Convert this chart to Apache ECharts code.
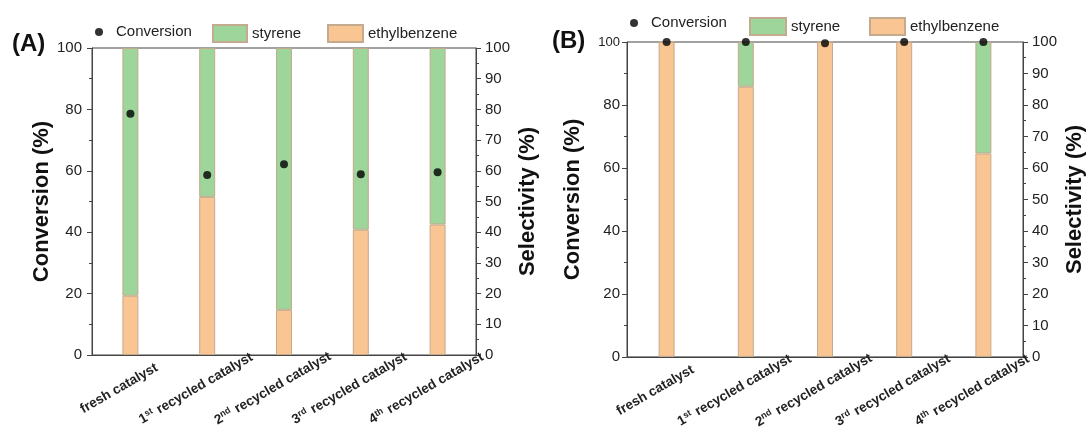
<!DOCTYPE html>
<html>
<head>
<meta charset="utf-8">
<title>Catalyst recycling: conversion and selectivity</title>
<script src="https://cdn.jsdelivr.net/npm/echarts@6/dist/echarts.min.js"></script>
<style>
  html, body { margin: 0; padding: 0; background: #ffffff; }
  #chart { width: 1091px; height: 431px; }
</style>
</head>
<body>
<div id="chart"></div>
<script>
// Catalyst runs on the category axis
const categories = ['fresh catalyst', '1st recycled catalyst', '2nd recycled catalyst', '3rd recycled catalyst', '4th recycled catalyst'];

// Panel (A)
const conversionA   = [78.6, 58.6, 62.1, 58.9, 59.5];
const ethylbenzeneA = [19.3, 51.5, 14.7, 40.8, 42.5];
const styreneA      = [80.7, 48.5, 85.3, 59.2, 57.5];

// Panel (B)
const conversionB   = [100, 100, 99.6, 100, 100];
const ethylbenzeneB = [100, 85.8, 100, 100, 64.6];
const styreneB      = [0, 14.2, 0, 0, 35.4];

// Axis ranges
const conversionRange  = { min: 0, max: 100, interval: 20 };
const selectivityRange = { min: 0, max: 100, interval: 10 };

const FONT = 'Liberation Sans, Arial, Helvetica, sans-serif';
const GREEN = '#9dd59a';
const ORANGE = '#f9c593';
const EDGE = '#c4aa8e';
const AXIS = '#444';
const TEXT = '#222';

const chart = echarts.init(document.getElementById('chart'), null, { renderer: 'canvas' });

// "1st recycled catalyst" -> ordinal with superscript suffix
function categoryLabel(v) {
  const m = v.match(/^(\d)(st|nd|rd|th) (.*)$/);
  if (!m) return '{b|' + v + '}';
  return '{b|' + m[1] + '}{s|' + m[2] + '}{b| ' + m[3] + '}';
}

const grids = [
  { left: 92, top: 48, width: 384, height: 307 },
  { left: 627, top: 42, width: 396, height: 318 }
];

function xAxisFor(i) {
  return {
    type: 'category',
    gridIndex: i,
    data: categories,
    boundaryGap: true,
    axisLine: { lineStyle: { color: AXIS, width: 1 } },
    axisTick: { show: false },
    axisLabel: {
      interval: 0,
      rotate: 30,
      align: 'center',
      verticalAlign: 'middle',
      margin: 27,
      padding: [0, 26, 0, 0],
      formatter: categoryLabel,
      rich: {
        b: { fontSize: 13.5, fontWeight: 'bold', fontFamily: FONT, color: TEXT },
        s: { fontSize: 9, fontWeight: 'bold', fontFamily: FONT, color: TEXT, verticalAlign: 'top', padding: [0, 1, 6, 0] }
      }
    }
  };
}

function conversionAxis(i, gap, margin, topSize) {
  return {
    type: 'value',
    gridIndex: i,
    position: 'left',
    min: conversionRange.min,
    max: conversionRange.max,
    interval: conversionRange.interval,
    name: 'Conversion (%)',
    nameLocation: 'middle',
    nameGap: gap,
    nameTextStyle: { fontSize: 22, fontWeight: 'bold', fontFamily: FONT, color: '#111' },
    axisLine: { show: true, lineStyle: { color: AXIS, width: 1 } },
    axisTick: { show: true, inside: false, length: 5, lineStyle: { color: AXIS } },
    minorTick: { show: true, splitNumber: 2, length: 3, lineStyle: { color: AXIS } },
    splitLine: { show: false },
    axisLabel: {
      margin: margin,
      fontSize: 15,
      fontFamily: FONT,
      color: TEXT,
      formatter: function (v) { return v === 100 ? '{t|' + v + '}' : '{n|' + v + '}'; },
      rich: {
        n: { fontSize: 15, fontFamily: FONT, color: TEXT },
        t: { fontSize: topSize, fontFamily: FONT, color: TEXT }
      }
    }
  };
}

function selectivityAxis(i) {
  return {
    type: 'value',
    gridIndex: i,
    position: 'right',
    min: selectivityRange.min,
    max: selectivityRange.max,
    interval: selectivityRange.interval,
    name: 'Selectivity (%)',
    nameLocation: 'middle',
    nameGap: 41,
    nameTextStyle: { fontSize: 22, fontWeight: 'bold', fontFamily: FONT, color: '#111' },
    axisLine: { show: true, lineStyle: { color: AXIS, width: 1 } },
    axisTick: { show: true, inside: false, length: 5, lineStyle: { color: AXIS } },
    minorTick: { show: true, splitNumber: 2, length: 3, lineStyle: { color: AXIS } },
    splitLine: { show: false },
    axisLabel: { margin: 9, fontSize: 15, fontFamily: FONT, color: TEXT }
  };
}

function panelSeries(i, conv, eb, st) {
  return [
    {
      name: 'ethylbenzene', type: 'bar', xAxisIndex: i, yAxisIndex: 2 * i + 1,
      stack: 'sel' + i, barWidth: 16, data: eb,
      itemStyle: { color: ORANGE, borderColor: EDGE, borderWidth: 1 }
    },
    {
      name: 'styrene', type: 'bar', xAxisIndex: i, yAxisIndex: 2 * i + 1,
      stack: 'sel' + i, barWidth: 16, data: st,
      itemStyle: { color: GREEN, borderColor: EDGE, borderWidth: 1 }
    },
    {
      name: 'Conversion', type: 'scatter', xAxisIndex: i, yAxisIndex: 2 * i,
      symbol: 'circle', symbolSize: 8, clip: false, z: 5, data: conv,
      itemStyle: { color: '#000' }
    }
  ];
}

function legendItem(name, left, top, w, h, icon) {
  return {
    data: [name], left: left, top: top, padding: 0, itemGap: 0,
    itemWidth: w, itemHeight: h, icon: icon, selectedMode: false,
    textStyle: { fontSize: 15, fontFamily: FONT, color: TEXT }
  };
}

const option = {
  backgroundColor: '#ffffff',
  animation: false,
  title: [
    { text: '(A)', left: 12, top: 32, padding: 0, textStyle: { fontSize: 24, fontWeight: 'bold', fontFamily: FONT, color: '#111' } },
    { text: '(B)', left: 552, top: 29, padding: 0, textStyle: { fontSize: 24, fontWeight: 'bold', fontFamily: FONT, color: '#111' } }
  ],
  legend: [
    legendItem('Conversion', 95, 24.5, 24, 8, 'circle'),
    legendItem('styrene', 212, 24, 34, 17, 'rect'),
    legendItem('ethylbenzene', 327, 24, 35, 17, 'rect'),
    legendItem('Conversion', 630, 15.5, 24, 8, 'circle'),
    legendItem('styrene', 749, 17, 36, 17, 'rect'),
    legendItem('ethylbenzene', 869, 17, 35, 17, 'rect')
  ],
  grid: grids.map(g => Object.assign({ show: true, borderColor: AXIS, borderWidth: 1, backgroundColor: 'transparent' }, g)),
  xAxis: [xAxisFor(0), xAxisFor(1)],
  yAxis: [
    conversionAxis(0, 39, 10, 15),
    selectivityAxis(0),
    conversionAxis(1, 43, 7, 13),
    selectivityAxis(1)
  ],
  series: [].concat(
    panelSeries(0, conversionA, ethylbenzeneA, styreneA),
    panelSeries(1, conversionB, ethylbenzeneB, styreneB)
  )
};

chart.setOption(option);
</script>
</body>
</html>
